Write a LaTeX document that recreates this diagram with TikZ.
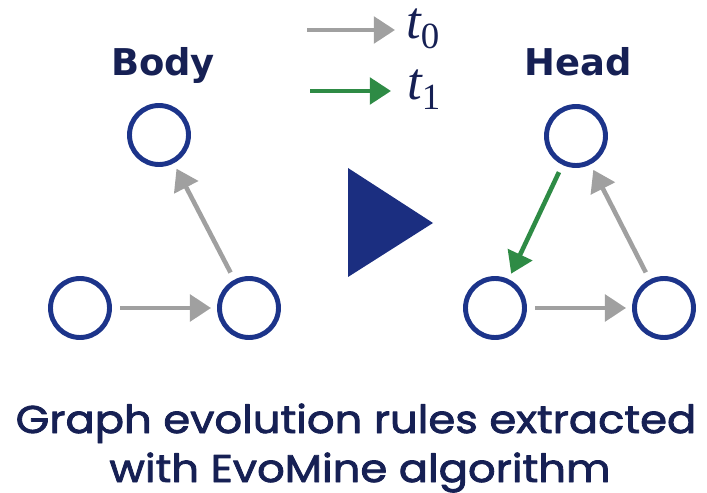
\documentclass[tikz,border=0pt]{standalone}
\usepackage{amsmath}
\usepackage{fontspec}
\usetikzlibrary{arrows.meta}
\newfontfamily\headfont{DejaVu Sans}
\newfontfamily\capfont{Poppins}[FakeBold=2.2, FakeStretch=1.12]
\newfontfamily\tfont{Liberation Serif}
\definecolor{nodeblue}{RGB}{28,52,138}
\definecolor{playblue}{RGB}{27,46,128}
\definecolor{navy}{RGB}{22,32,84}
\definecolor{edgegray}{RGB}{160,160,160}
\definecolor{edgegreen}{RGB}{46,139,69}
\begin{document}
\begin{tikzpicture}[x=0.02cm, y=-0.02cm, line cap=butt, line join=round, >={Triangle[length=12pt,width=15pt]}]
	\tikzset{vert/.style={circle, draw=nodeblue, line width=2.8pt, minimum size=1.18cm, inner sep=0pt},
		edge/.style={->, line width=2.6pt, shorten <=0.16cm, shorten >=0.12cm},
		title/.style={font=\headfont\bfseries\fontsize{21}{25}\selectfont, text=navy, anchor=base},
		caption/.style={font=\capfont\fontsize{22}{26}\selectfont, text=navy, anchor=base},
		time/.style={font=\tfont\fontsize{30}{34}\selectfont, text=navy, anchor=base west, inner sep=0pt}}
	\useasboundingbox (0,0) rectangle (707,493);
	% legend
	\node[time] (t0) at (406,39) {$\textit{t}_{\text{0}}$};
	\node[time] (t1) at (407,100) {$\textit{t}_{\text{1}}$};
	\coordinate (l0) at (307,30);
	\coordinate (l1) at (310,91);
	\draw[->, edgegray, line width=2.4pt] (l0) -- (395,30);
	\draw[->, edgegreen, line width=2.4pt] (l1) -- (391,91);
	% body
	\node[title] (body) at (163,76) {Body};
	\node[vert] (bt) at (159,135) {};
	\node[vert] (bl) at (80,308) {};
	\node[vert] (br) at (249,308) {};
	\draw[edge, edgegray] (bl) -- (br);
	\draw[edge, edgegray] (br) -- (bt);
	% play
	\fill[playblue] (348,168) -- (348,277) -- (433,223) -- cycle;
	% head
	\node[title] (head) at (578,76) {Head};
	\node[vert] (ht) at (576,136) {};
	\node[vert] (hl) at (495,308) {};
	\node[vert] (hr) at (664,308) {};
	\draw[edge, edgegray] (hl) -- (hr);
	\draw[edge, edgegray] (hr) -- (ht);
	\draw[edge, edgegreen] (ht) -- (hl);
	% caption
	\node[caption] (cap1) at (356,433) {Graph evolution rules extracted};
	\node[caption] (cap2) at (360,482) {with EvoMine algorithm};
\end{tikzpicture}
\end{document}
